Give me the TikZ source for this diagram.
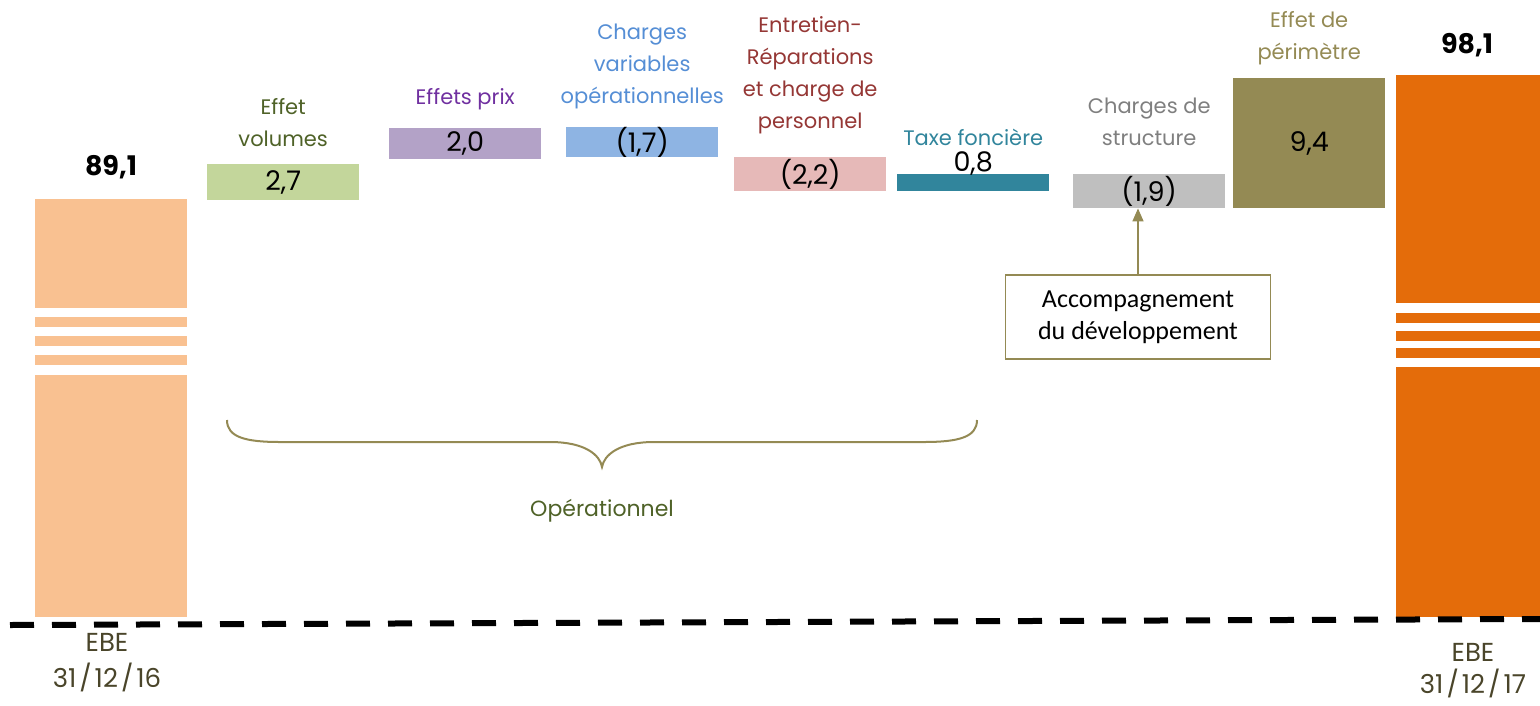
\documentclass[tikz,border=0pt]{standalone}
\usepackage{fontspec}
\setmainfont{Poppins}
\newfontfamily\calib{Carlito}
\usepackage{tikz}
\usetikzlibrary{positioning,arrows.meta}

\definecolor{ebeclair}{HTML}{F9C191}
\definecolor{ebefonce}{HTML}{E46C0A}
\definecolor{ebetexte}{HTML}{4A452A}
\definecolor{vertbar}{HTML}{C3D69B}
\definecolor{verttxt}{HTML}{4F6228}
\definecolor{violetbar}{HTML}{B3A2C7}
\definecolor{violettxt}{HTML}{7030A0}
\definecolor{bleubar}{HTML}{8EB4E3}
\definecolor{bleutxt}{HTML}{558ED5}
\definecolor{rosebar}{HTML}{E6B9B8}
\definecolor{rougetxt}{HTML}{953735}
\definecolor{sarcelle}{HTML}{31859C}
\definecolor{grisbar}{HTML}{BFBFBF}
\definecolor{gristxt}{HTML}{7F7F7F}
\definecolor{olive}{HTML}{948A54}

\newcommand{\valfont}{\fontsize{27}{30}\selectfont}
\newcommand{\titfont}{\fontsize{21}{32}\selectfont}
\newcommand{\barre}{\kern3pt/\kern3pt}

\begin{document}
\begin{tikzpicture}[x=1pt,y=-1pt,
    bar/.style = {minimum width=152pt, inner sep=0pt, anchor=north west, font=\valfont},
    titre/.style = {align=center, inner sep=0pt, font=\titfont},
    total/.style = {inner sep=0pt, font=\valfont\bfseries},
    date/.style = {align=center, inner sep=0pt, text=ebetexte, font=\fontsize{26}{36}\selectfont}
  ]
  \useasboundingbox (0,0) rectangle (1540,705);

  % EBE 2016
  \foreach \y/\h in {199/109, 317/10, 336/10, 355/10, 375/242}
    \fill[ebeclair] (35,\y) rectangle ++(152,\h);
  \node[total] (v16) at (111,167) {89,1};
  \node[date] (ebe16) at (107,663) {EBE\\31\barre12\barre16};

  % effets
  \node[bar, fill=vertbar, minimum height=36pt] (volumes) at (207,164) {2,7};
  \node[titre, text=verttxt, above=17pt of volumes] (tvolumes) {Effet\\volumes};

  \node[bar, fill=violetbar, minimum height=31pt] (prix) at (389,128) {2,0};
  \node[titre, text=violettxt, above=18pt of prix] (tprix) {Effets prix};

  \node[bar, fill=bleubar, minimum height=26pt] (variables) at (566,127) {(1,7)};
  \node[titre, text=bleutxt, above=18pt of variables] (tvariables) {Charges\\variables\\opérationnelles};

  \node[bar, fill=rosebar, minimum height=34pt] (entretien) at (734,157) {(2,2)};
  \node[titre, text=rougetxt, above=23pt of entretien] (tentretien) {Entretien-\\Réparations\\et charge de\\personnel};

  \node[bar, fill=sarcelle, minimum height=17pt] (taxe) at (897,174) {};
  \node[inner sep=0pt, font=\valfont, above=-2pt of taxe] (vtaxe) {0,8};
  \node[titre, text=sarcelle, above=6pt of vtaxe] (ttaxe) {Taxe foncière};

  \node[bar, fill=grisbar, minimum height=34pt] (structure) at (1073,174) {(1,9)};
  \node[titre, text=gristxt, above=28pt of structure] (tstructure) {Charges de\\structure};

  \node[bar, fill=olive, minimum height=130pt] (perimetre) at (1233,78) {9,4};
  \node[titre, text=olive, above=13pt of perimetre] (tperimetre) {Effet de\\périmètre};

  % EBE 2017
  \foreach \y/\h in {75/228, 313/10, 331/10, 348/10, 367/250}
    \fill[ebefonce] (1396,\y) rectangle (1540,\y+\h);
  \node[total] (v17) at (1467,45) {98,1};
  \node[date, font=\fontsize{26}{32}\selectfont] (ebe17) at (1473,671) {EBE\\31\barre12\barre17};

  % ligne de base
  \draw[line width=6pt, dash pattern=on 24pt off 18pt] (10,625) -- (1540,619);

  % accolade
  \coordinate (pointe) at (602,467);
  \draw[olive, line width=2pt] (227,420) .. controls (227,437) and (245,442) .. (280,442)
    -- (550,442) .. controls (585,442) and (600,455) .. (pointe)
    .. controls (604,455) and (619,442) .. (654,442)
    -- (924,442) .. controls (959,442) and (977,437) .. (977,420);
  \node[titre, text=verttxt, font=\fontsize{22}{26}\selectfont, below=32pt of pointe] (operationnel) {Opérationnel};

  % accompagnement
  \node[draw=olive, line width=1.5pt, minimum width=265pt, minimum height=84pt, align=center,
        font=\calib\fontsize{26}{32}\selectfont] (accomp) at (1138,317) {Accompagnement\\du développement};
  \draw[-{Triangle[width=11pt,length=13pt]}, olive, line width=1.5pt] (accomp.north) -- (accomp.north |- structure.south);
\end{tikzpicture}
\end{document}
